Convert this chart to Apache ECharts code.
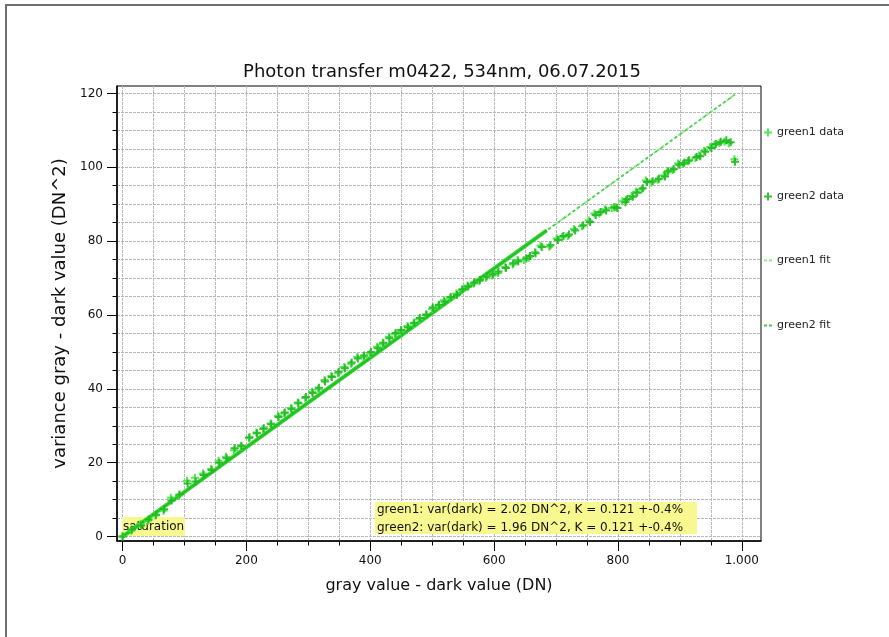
<!DOCTYPE html>
<html>
<head>
<meta charset="utf-8">
<title>Photon transfer m0422</title>
<script src="https://cdn.jsdelivr.net/npm/echarts@6/dist/echarts.min.js"></script>
<style>
  html, body { margin: 0; padding: 0; background: #fff; }
  #chart { width: 889px; height: 637px; }
</style>
</head>
<body>
<div id="chart"></div>
<script>
// Photon transfer curve: variance vs. mean signal (dark subtracted), two green channels.
const titleText = 'Photon transfer m0422, 534nm, 06.07.2015';
const xName = 'gray value - dark value (DN)';
const yName = 'variance gray - dark value (DN^2)';

const xMinorTicks = [0, 50, 100, 150, 200, 250, 300, 350, 400, 450, 500, 550, 600, 650, 700, 750, 800, 850, 900, 950, 1000];
const xMajorTicks = [0, 200, 400, 600, 800, 1000];
const yMinorTicks = [0, 5, 10, 15, 20, 25, 30, 35, 40, 45, 50, 55, 60, 65, 70, 75, 80, 85, 90, 95, 100, 105, 110, 115, 120];
const yMajorTicks = [0, 20, 40, 60, 80, 100, 120];

// green1 channel: mean (DN) and variance (DN^2)
const green1Gray = [0, 14, 29, 41, 53, 66, 78, 91, 104, 117, 130, 143, 155, 167, 180, 191, 204, 216, 227, 239,
  251, 261, 272, 283, 295, 306, 316, 326, 337, 348, 358, 369, 379, 389, 400, 411, 420, 430, 440, 449,
  460, 470, 479, 490, 500, 510, 519, 529, 539, 548, 557, 567, 576, 587, 597, 606, 618, 630, 638, 648,
  656, 666, 675, 689, 701, 710, 719, 729, 742, 753, 762, 770, 779, 790, 797, 807, 813, 822, 829, 838,
  845, 854, 864, 874, 879, 888, 897, 905, 913, 925, 931, 939, 949, 956, 964, 972, 979, 988];
const green1Var = [0.1, 1.6, 3.4, 4.3, 5.7, 7.0, 10.5, 11.1, 15.1, 15.9, 17.1, 18.3, 20.5, 21.6, 23.4, 24.4, 26.7, 28.2, 29.1, 30.6,
  32.7, 33.3, 34.8, 36.3, 37.5, 39.2, 39.9, 42.4, 43.5, 44.2, 45.9, 46.8, 48.6, 48.6, 49.6, 51.4, 52.1, 54.1, 54.8, 55.5,
  57.0, 57.6, 58.8, 60.2, 61.6, 62.5, 64.0, 64.5, 65.8, 66.7, 68.0, 68.5, 69.2, 70.1, 70.7, 71.4, 73.0, 73.7, 74.9, 74.9,
  75.5, 77.0, 78.8, 78.5, 80.7, 81.1, 81.4, 83.3, 84.0, 85.6, 87.5, 87.5, 88.6, 89.0, 89.2, 90.8, 91.1, 92.2, 93.4, 94.0,
  96.4, 95.9, 96.6, 97.8, 98.6, 99.2, 101.0, 100.9, 101.6, 102.5, 103.2, 104.5, 105.5, 106.0, 106.6, 107.0, 106.5, 102.2];

// green2 channel: mean (DN) and variance (DN^2)
const green2Gray = [0, 15, 30, 42, 54, 67, 79, 92, 105, 118, 131, 144, 156, 168, 181, 192, 205, 217, 228, 240,
  252, 262, 273, 284, 296, 307, 317, 327, 338, 349, 359, 370, 380, 390, 401, 412, 421, 431, 441, 450,
  461, 471, 480, 491, 501, 511, 520, 530, 540, 549, 558, 568, 577, 588, 598, 607, 619, 631, 639, 652,
  658, 667, 677, 691, 703, 712, 721, 731, 744, 755, 764, 772, 781, 794, 799, 812, 815, 824, 831, 840,
  847, 856, 866, 876, 881, 890, 899, 907, 915, 927, 933, 941, 951, 958, 966, 975, 982, 989];
const green2Var = [0.0, 1.9, 3.0, 4.6, 5.9, 7.4, 9.8, 11.4, 14.4, 14.9, 16.7, 18.0, 20.0, 21.2, 23.9, 24.6, 26.9, 28.0, 29.3, 30.4,
  32.4, 33.6, 34.5, 36.1, 37.8, 38.9, 40.3, 42.0, 43.2, 44.6, 45.6, 47.1, 48.2, 49.0, 50.0, 51.0, 52.5, 53.7, 55.1, 55.9,
  56.6, 57.9, 59.2, 60.0, 62.0, 62.8, 63.6, 64.9, 65.5, 67.0, 67.7, 68.8, 69.5, 70.4, 71.0, 71.8, 72.7, 74.0, 74.5, 75.3,
  76.0, 76.7, 78.4, 78.9, 80.3, 81.4, 81.8, 82.9, 84.3, 85.2, 87.1, 87.9, 88.3, 89.2, 89.0, 90.5, 91.4, 92.0, 93.1, 94.3,
  96.0, 96.2, 96.9, 97.5, 98.9, 99.5, 100.7, 101.2, 101.9, 102.8, 103.0, 104.2, 105.2, 106.3, 106.9, 107.3, 106.8, 101.5];

// Linear fit results per channel
const channels = ['green1', 'green2'];
const darkVar = [2.02, 1.96];     // DN^2
const gainK = [0.121, 0.121];     // fitted slope
const gainErr = '0.4%';
const fitRangeEnd = 685;          // end of fitted range (DN)
const fitLineEnd = 989;           // extrapolated line end (DN)

const pairs = (xs, ys) => xs.map((x, i) => [x, ys[i]]);
const fitPoints = (k, x1) => [[0, 0], [x1, +(k * x1).toFixed(2)]];

const plusIcon = 'path://M3,0H5V3H8V5H5V8H3V5H0V3H3Z';
const dashIcon = 'path://M0,3H3V5H0Z M5,3H8V5H5Z';

const colG1Data = '#3fe83f';
const colG2Data = '#1fb81f';
const colG1Fit = '#8af08a';
const colG2Fit = '#4cc84c';
const gridColor = '#b8b8b8';
const noteFill = '#f8f890';
const fontFamily = '"DejaVu Sans", Verdana, sans-serif';

const thousands = v => v >= 1000 ? Math.floor(v / 1000) + '.' + String(v % 1000).padStart(3, '0') : String(v);

const chart = echarts.init(document.getElementById('chart'), null, { renderer: 'canvas' });

const legendBase = {
  orient: 'vertical', left: 764, itemWidth: 8, itemHeight: 8, itemGap: 0,
  textStyle: { fontFamily, fontSize: 11, color: '#222' },
  selectedMode: false, padding: 0
};

chart.setOption({
  animation: false,
  textStyle: { fontFamily },
  title: {
    text: titleText, left: 437, textAlign: 'center', top: 58,
    textStyle: { fontFamily, fontSize: 18, fontWeight: 'normal', color: '#111' }
  },
  legend: [
    Object.assign({}, legendBase, { top: 127, data: [{ name: 'green1 data', icon: plusIcon }] }),
    Object.assign({}, legendBase, { top: 191, data: [{ name: 'green2 data', icon: plusIcon }] }),
    Object.assign({}, legendBase, { top: 255, data: [{ name: 'green1 fit', icon: dashIcon }] }),
    Object.assign({}, legendBase, { top: 320, data: [{ name: 'green2 fit', icon: dashIcon }] })
  ],
  grid: {
    left: 117, right: 128, top: 86, bottom: 96,
    show: true, borderColor: '#000', borderWidth: 1, backgroundColor: 'transparent'
  },
  xAxis: [
    {
      type: 'value', min: -9, max: 1031, position: 'bottom',
      name: xName, nameLocation: 'middle', nameGap: 37,
      nameTextStyle: { fontFamily, fontSize: 16, color: '#111' },
      axisLine: { show: true, onZero: false, lineStyle: { color: '#000', width: 1.5 } },
      axisTick: { show: true, inside: false, length: 4.5, customValues: xMinorTicks, lineStyle: { color: '#000' } },
      axisLabel: { show: true, customValues: xMajorTicks, margin: 14, formatter: thousands,
        fontFamily, fontSize: 12, color: '#111' },
      splitLine: { show: true, lineStyle: { color: gridColor, type: [3, 1], width: 1 } }
    },
    {
      type: 'value', min: -9, max: 1031, position: 'bottom',
      axisLine: { show: false, onZero: false },
      axisTick: { show: true, inside: false, length: 10, customValues: xMajorTicks, lineStyle: { color: '#000' } },
      axisLabel: { show: false },
      splitLine: { show: false }
    }
  ],
  yAxis: [
    {
      type: 'value', min: -1.2, max: 122, position: 'left',
      name: yName, nameLocation: 'middle', nameGap: 36,
      nameTextStyle: { fontFamily, fontSize: 18, color: '#111' },
      axisLine: { show: true, onZero: false, lineStyle: { color: '#000', width: 1.5 } },
      axisTick: { show: true, inside: false, length: 4.5, customValues: yMinorTicks, lineStyle: { color: '#000' } },
      axisLabel: { show: true, customValues: yMajorTicks, margin: 14, fontFamily, fontSize: 12, color: '#111' },
      splitLine: { show: true, lineStyle: { color: gridColor, type: [3, 1], width: 1 } }
    },
    {
      type: 'value', min: -1.2, max: 122, position: 'left',
      axisLine: { show: false, onZero: false },
      axisTick: { show: true, inside: false, length: 10, customValues: yMajorTicks, lineStyle: { color: '#000' } },
      axisLabel: { show: false },
      splitLine: { show: false }
    }
  ],
  series: [
    {
      name: 'green1 fit', type: 'line', data: fitPoints(gainK[0], fitLineEnd),
      symbol: 'none', color: colG1Fit, z: 3,
      lineStyle: { color: colG1Fit, width: 2, type: [3, 2] }
    },
    {
      name: 'green2 fit', type: 'line', data: fitPoints(gainK[1], fitLineEnd),
      symbol: 'none', color: colG2Fit, z: 3,
      lineStyle: { color: colG2Fit, width: 1.5, type: [3, 3], dashOffset: 3 }
    },
    {
      name: 'green1 fit range', type: 'line', data: fitPoints(gainK[0], fitRangeEnd),
      symbol: 'none', z: 4, lineStyle: { color: '#3ad83a', width: 4 }
    },
    {
      name: 'green2 fit range', type: 'line', data: fitPoints(gainK[1], fitRangeEnd),
      symbol: 'none', z: 4, lineStyle: { color: '#22c022', width: 2 }
    },
    {
      name: 'green1 data', type: 'scatter', data: pairs(green1Gray, green1Var),
      symbol: plusIcon, symbolSize: 8, color: colG1Data, z: 5,
      itemStyle: { color: colG1Data, opacity: 0.9 }
    },
    {
      name: 'green2 data', type: 'scatter', data: pairs(green2Gray, green2Var),
      symbol: plusIcon, symbolSize: 8, color: colG2Data, z: 6,
      itemStyle: { color: colG2Data, opacity: 0.9 }
    }
  ],
  graphic: [
    // page frame
    { type: 'line', shape: { x1: 5, y1: 5, x2: 889, y2: 5 }, style: { stroke: '#707070', lineWidth: 2 }, z: 100 },
    { type: 'line', shape: { x1: 6, y1: 4, x2: 6, y2: 637 }, style: { stroke: '#707070', lineWidth: 2 }, z: 100 },
    // saturation note (drawn under the marks)
    { type: 'rect', shape: { x: 122, y: 517, width: 63, height: 19 }, style: { fill: noteFill }, z: 1 },
    { type: 'text', x: 123, y: 527, style: { text: 'saturation', fontFamily, fontSize: 12, fill: '#111',
      verticalAlign: 'middle' }, z: 2 },
    // fit summary
    { type: 'rect', shape: { x: 375, y: 502, width: 322, height: 32 }, style: { fill: noteFill }, z: 1 },
    { type: 'text', x: 377, y: 510, style: {
      text: channels[0] + ': var(dark) = ' + darkVar[0].toFixed(2) + ' DN^2, K = ' + gainK[0].toFixed(3) + ' +-' + gainErr,
      fontFamily, fontSize: 12, fill: '#111', verticalAlign: 'middle' }, z: 2 },
    { type: 'text', x: 377, y: 527.5, style: {
      text: channels[1] + ': var(dark) = ' + darkVar[1].toFixed(2) + ' DN^2, K = ' + gainK[1].toFixed(3) + ' +-' + gainErr,
      fontFamily, fontSize: 12, fill: '#111', verticalAlign: 'middle' }, z: 2 }
  ]
});
</script>
</body>
</html>
